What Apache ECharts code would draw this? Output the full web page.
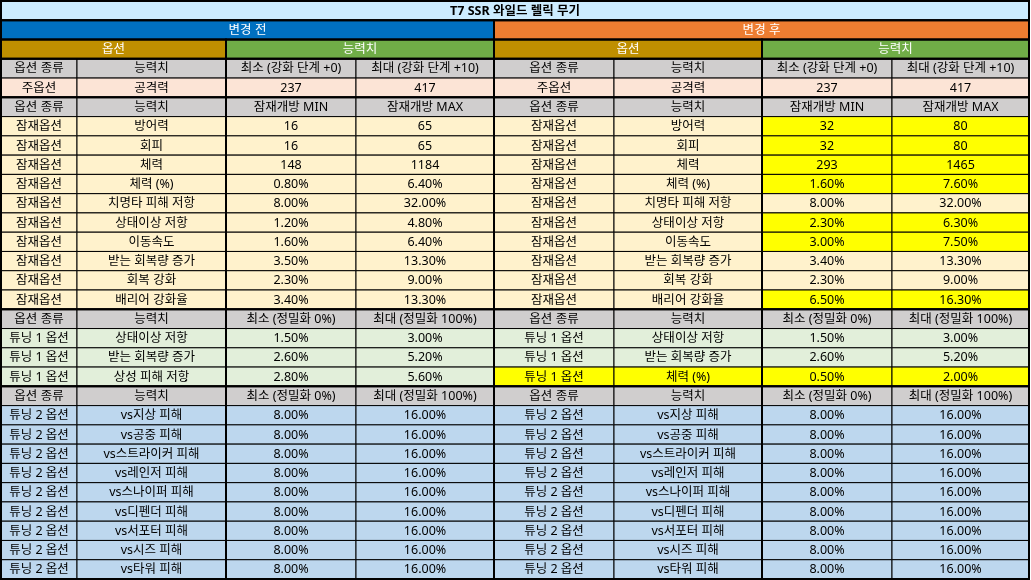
<!DOCTYPE html>
<html>
<head>
<meta charset="utf-8">
<script src="https://cdn.jsdelivr.net/npm/echarts@6/dist/echarts.min.js"></script>
<style>
  html, body { margin: 0; padding: 0; background: #fff; }
  #main { width: 1031px; height: 580px; }
</style>
</head>
<body>
<div id="main"></div>
<script>
// ---- table data ----
var titleText = 'T7 SSR 와일드 렐릭 무기';
var halfTitles = ['변경 전', '변경 후'];
var groupTitles = ['옵션', '능력치'];

var mainHeader = ['옵션 종류', '능력치', '최소 (강화 단계 +0)', '최대 (강화 단계 +10)'];
var mainRow = ['주옵션', '공격력', '237', '417'];

var potentialHeader = ['옵션 종류', '능력치', '잠재개방 MIN', '잠재개방 MAX'];
var potentialType = '잠재옵션';
var potentialStats = ['방어력', '회피', '체력', '체력 (%)', '치명타 피해 저항', '상태이상 저항', '이동속도', '받는 회복량 증가', '회복 강화', '배리어 강화율'];
var potentialMinBefore = ['16', '16', '148', '0.80%', '8.00%', '1.20%', '1.60%', '3.50%', '2.30%', '3.40%'];
var potentialMaxBefore = ['65', '65', '1184', '6.40%', '32.00%', '4.80%', '6.40%', '13.30%', '9.00%', '13.30%'];
var potentialMinAfter = ['32', '32', '293', '1.60%', '8.00%', '2.30%', '3.00%', '3.40%', '2.30%', '6.50%'];
var potentialMaxAfter = ['80', '80', '1465', '7.60%', '32.00%', '6.30%', '7.50%', '13.30%', '9.00%', '16.30%'];
var potentialMarked = [1, 1, 1, 1, 0, 1, 1, 0, 0, 1];

var tuningHeader = ['옵션 종류', '능력치', '최소 (정밀화 0%)', '최대 (정밀화 100%)'];
var tuning1Type = '튜닝 1 옵션';
var tuning1StatsBefore = ['상태이상 저항', '받는 회복량 증가', '상성 피해 저항'];
var tuning1MinBefore = ['1.50%', '2.60%', '2.80%'];
var tuning1MaxBefore = ['3.00%', '5.20%', '5.60%'];
var tuning1StatsAfter = ['상태이상 저항', '받는 회복량 증가', '체력 (%)'];
var tuning1MinAfter = ['1.50%', '2.60%', '0.50%'];
var tuning1MaxAfter = ['3.00%', '5.20%', '2.00%'];
var tuning1Marked = [0, 0, 1];

var tuning2Type = '튜닝 2 옵션';
var tuning2Stats = ['vs지상 피해', 'vs공중 피해', 'vs스트라이커 피해', 'vs레인저 피해', 'vs스나이퍼 피해', 'vs디펜더 피해', 'vs서포터 피해', 'vs시즈 피해', 'vs타워 피해'];
var tuning2Min = ['8.00%', '8.00%', '8.00%', '8.00%', '8.00%', '8.00%', '8.00%', '8.00%', '8.00%'];
var tuning2Max = ['16.00%', '16.00%', '16.00%', '16.00%', '16.00%', '16.00%', '16.00%', '16.00%', '16.00%'];

// ---- layout / style ----
var colEdges = [1, 77, 226, 356, 494, 614, 762, 892, 1029];
var rowCount = 30;
var colors = {
  title: '#CCECFF', before: '#0070C0', after: '#ED7D31',
  option: '#BF8F00', stat: '#70AD47', header: '#D0CECE',
  main: '#FCE4D6', potential: '#FFF2CC', tuning1: '#E2EFDA',
  tuning2: '#BDD7EE', marked: '#FFFF00'
};

var cells = [];
function addCell(c0, c1, row, text, fill, color, bold) {
  cells.push({ c0: c0, c1: c1, row: row, text: text, fill: fill, color: color || '#000', bold: !!bold });
}
function addLine(row, half, texts, fills) {
  for (var i = 0; i < 4; i++) {
    addCell(half * 4 + i, half * 4 + i + 1, row, texts[i], Array.isArray(fills) ? fills[i] : fills);
  }
}

addCell(0, 8, 0, titleText, colors.title, '#000', true);
addCell(0, 4, 1, halfTitles[0], colors.before, '#fff');
addCell(4, 8, 1, halfTitles[1], colors.after, '#fff');
[0, 1].forEach(function (h) {
  addCell(h * 4, h * 4 + 2, 2, groupTitles[0], colors.option, '#fff');
  addCell(h * 4 + 2, h * 4 + 4, 2, groupTitles[1], colors.stat, '#fff');
  addLine(3, h, mainHeader, colors.header);
  addLine(4, h, mainRow, colors.main);
  addLine(5, h, potentialHeader, colors.header);
  addLine(16, h, tuningHeader, colors.header);
  addLine(20, h, tuningHeader, colors.header);
});

potentialStats.forEach(function (s, i) {
  var r = 6 + i;
  addLine(r, 0, [potentialType, s, potentialMinBefore[i], potentialMaxBefore[i]], colors.potential);
  var f = potentialMarked[i] ? colors.marked : colors.potential;
  addLine(r, 1, [potentialType, s, potentialMinAfter[i], potentialMaxAfter[i]],
    [colors.potential, colors.potential, f, f]);
});

tuning1StatsBefore.forEach(function (s, i) {
  var r = 17 + i;
  addLine(r, 0, [tuning1Type, s, tuning1MinBefore[i], tuning1MaxBefore[i]], colors.tuning1);
  addLine(r, 1, [tuning1Type, tuning1StatsAfter[i], tuning1MinAfter[i], tuning1MaxAfter[i]],
    tuning1Marked[i] ? colors.marked : colors.tuning1);
});

tuning2Stats.forEach(function (s, i) {
  var r = 21 + i;
  addLine(r, 0, [tuning2Type, s, tuning2Min[i], tuning2Max[i]], colors.tuning2);
  addLine(r, 1, [tuning2Type, s, tuning2Min[i], tuning2Max[i]], colors.tuning2);
});

// thick outlines: [c0, c1, r0, r1]
var outlines = [[0, 8, 0, 1], [0, 4, 1, 2], [4, 8, 1, 2]];
[[2, 3], [3, 5], [5, 16], [16, 20], [20, 30]].forEach(function (rb) {
  [[0, 2], [2, 4], [4, 6], [6, 8]].forEach(function (cb) {
    outlines.push([cb[0], cb[1], rb[0], rb[1]]);
  });
});

var fontFamily = "'Noto Sans', 'Noto Sans CJK KR', sans-serif";

function rectOf(api) {
  var p0 = api.coord([api.value(0), api.value(2)]);
  var p1 = api.coord([api.value(1), api.value(3)]);
  return { x: p0[0], y: p0[1], width: p1[0] - p0[0], height: p1[1] - p0[1] };
}

var chart = echarts.init(document.getElementById('main'));
chart.setOption({
  animation: false,
  grid: { left: 0, right: 0, top: 1, bottom: 1 },
  xAxis: { type: 'value', min: 0, max: 1031, show: false },
  yAxis: { type: 'value', min: 0, max: rowCount, inverse: true, show: false },
  series: [
    {
      type: 'custom',
      silent: true,
      encode: { x: [0, 1], y: [2, 3] },
      data: cells.map(function (c) { return [colEdges[c.c0], colEdges[c.c1], c.row, c.row + 1]; }),
      renderItem: function (params, api) {
        var c = cells[params.dataIndex];
        var r = rectOf(api);
        return {
          type: 'group',
          children: [
            { type: 'rect', shape: r, style: { fill: c.fill, stroke: '#000', lineWidth: 1 } },
            {
              type: 'text',
              style: {
                text: c.text, x: r.x + r.width / 2, y: r.y + r.height / 2 + 0.5,
                align: 'center', verticalAlign: 'middle', fill: c.color,
                font: (c.bold ? 'bold ' : '') + '12.5px ' + fontFamily
              }
            }
          ]
        };
      }
    },
    {
      type: 'custom',
      silent: true,
      z: 5,
      encode: { x: [0, 1], y: [2, 3] },
      data: outlines.map(function (o) { return [colEdges[o[0]], colEdges[o[1]], o[2], o[3]]; }),
      renderItem: function (params, api) {
        return { type: 'rect', shape: rectOf(api), style: { fill: 'none', stroke: '#000', lineWidth: 2 } };
      }
    }
  ]
});
</script>
</body>
</html>
